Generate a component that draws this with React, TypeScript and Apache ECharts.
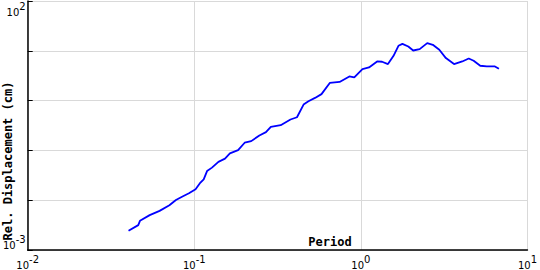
import React, { useEffect, useRef } from "react";
import * as echarts from "echarts";

const periods = [
  0.0403, 0.0461, 0.0472, 0.054, 0.0619, 0.0709, 0.0776, 0.085, 0.0929, 0.1018,
  0.1089, 0.1139, 0.1193, 0.1277, 0.1396, 0.1529, 0.1636, 0.1832, 0.2006, 0.2197,
  0.2459, 0.2693, 0.2881, 0.3301, 0.378, 0.4135, 0.4529, 0.4845, 0.5306, 0.5803,
  0.6505, 0.745, 0.853, 0.913, 1.022, 1.119, 1.252, 1.341, 1.454, 1.571,
  1.681, 1.776, 1.926, 2.061, 2.254, 2.502, 2.704, 2.957, 3.238, 3.624,
  4.061, 4.442, 4.754, 5.206, 5.7, 6.38, 6.74,
];
const displacements = [
  0.00243, 0.00316, 0.00385, 0.00501, 0.00611, 0.00794, 0.0101, 0.0119, 0.0138, 0.0166,
  0.0226, 0.0263, 0.0385, 0.0451, 0.0589, 0.0682, 0.0871, 0.1014, 0.1426, 0.1535,
  0.1995, 0.2323, 0.2979, 0.3206, 0.4169, 0.4634, 0.832, 0.968, 1.132, 1.349,
  2.26, 2.366, 3.06, 2.92, 4.31, 4.63, 6.11, 6.03, 5.42, 7.94,
  12.59, 13.8, 12.19, 10.14, 10.81, 14.26, 13.18, 10.47, 7.14, 5.42,
  6.11, 7.01, 6.31, 5.01, 4.85, 4.85, 4.37,
];
const xTickExponents = [-2, -1, 0, 1];
const yTickExponents = [-3, 2];
const xAxisTitle = "Period";
const yAxisTitle = "Rel. Displacement (cm)";

const supRich = {
  b: { fontSize: 10, fontFamily: "DejaVu Sans", color: "#000", lineHeight: 16, verticalAlign: "bottom" },
  s: { fontSize: 10, fontFamily: "DejaVu Sans", color: "#000", lineHeight: 16, verticalAlign: "top" },
};

function expLabel(v: number, allowed: number[]) {
  const e = Math.round(Math.log10(v));
  if (Math.abs(Math.log10(v) - e) > 1e-6 || !allowed.includes(e)) return "";
  return `{b|10}{s|${e}}`;
}

export default function App() {
  const ref = useRef<HTMLDivElement>(null);
  useEffect(() => {
    if (!ref.current) return;
    const chart = echarts.init(ref.current, undefined, { renderer: "svg" });
    const data = periods.map((p, i) => [p, displacements[i]]);
    chart.setOption({
      animation: false,
      backgroundColor: "#fff",
      grid: { left: 19, right: 10, top: 1, bottom: 18 },
      xAxis: {
        type: "log",
        logBase: 10,
        min: 0.01,
        max: 10,
        axisLine: { show: true, lineStyle: { color: "#000", width: 1.5 } },
        axisTick: { show: false },
        minorTick: { show: false },
        splitLine: { show: true, lineStyle: { color: "#d9d9d9", width: 1 } },
        axisLabel: {
          margin: 4,
          formatter: (v: number) => expLabel(v, xTickExponents),
          rich: supRich,
        },
      },
      yAxis: {
        type: "log",
        logBase: 10,
        min: 0.001,
        max: 100,
        axisLine: { show: true, lineStyle: { color: "#000", width: 1.5 } },
        axisTick: { show: true, inside: true, length: 5, lineStyle: { color: "#000" } },
        minorTick: { show: false },
        splitLine: { show: true, lineStyle: { color: "#d9d9d9", width: 1 } },
        axisLabel: {
          margin: 2,
          verticalAlignMinLabel: "bottom",
          verticalAlignMaxLabel: "top",
          formatter: (v: number) => expLabel(v, yTickExponents),
          rich: supRich,
        },
      },
      graphic: [
        {
          type: "text",
          x: 330,
          y: 242,
          style: {
            text: xAxisTitle,
            font: "bold 12px 'DejaVu Sans Mono'",
            fill: "#000",
            textAlign: "center",
            textVerticalAlign: "middle",
          },
        },
        {
          type: "text",
          x: 8,
          y: 161,
          rotation: Math.PI / 2,
          style: {
            text: yAxisTitle,
            font: "bold 12px 'DejaVu Sans Mono'",
            fill: "#000",
            textAlign: "center",
            textVerticalAlign: "middle",
          },
        },
      ],
      series: [
        {
          type: "line",
          data,
          showSymbol: false,
          symbol: "none",
          lineStyle: { color: "#0000ff", width: 1.8 },
        },
      ],
    });
    return () => chart.dispose();
  }, []);
  return (
    <div
      ref={ref}
      style={{ position: "fixed", left: 0, top: 0, width: 540, height: 270 }}
    />
  );
}
